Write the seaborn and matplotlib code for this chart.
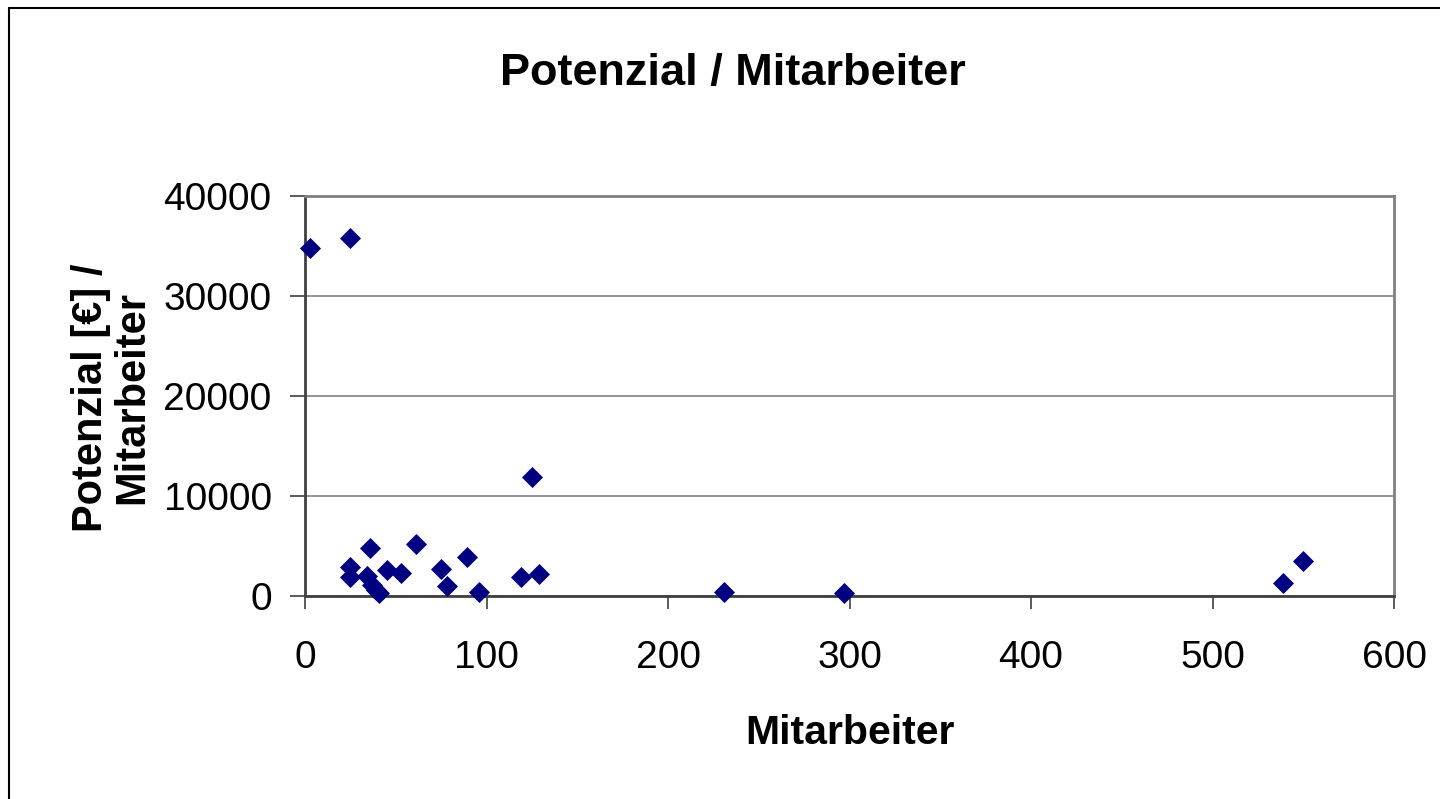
import pandas as pd
import matplotlib
matplotlib.use("Agg")
import matplotlib.pyplot as plt
from matplotlib.lines import Line2D
import seaborn as sns

# Data
mitarbeiter = [3, 25, 25, 25, 36, 34, 37, 39, 41, 45, 53, 61, 75, 78, 89, 96,
               119, 129, 125, 231, 297, 539, 550]
potenzial = [34800, 35800, 2900, 1900, 4800, 2000, 1100, 600, 300, 2600, 2300,
             5200, 2700, 1000, 3900, 400, 1900, 2200, 11900, 400, 300, 1300, 3500]

df = pd.DataFrame({"Mitarbeiter": mitarbeiter, "Potenzial": potenzial})

sns.set_style("white", {"xtick.bottom": True, "ytick.left": True,
                        "text.color": "black", "axes.labelcolor": "black",
                        "xtick.color": "black", "ytick.color": "black"})
plt.rcParams["font.family"] = ["Liberation Sans", "DejaVu Sans"]

fig = plt.figure(figsize=(14.4, 7.99), dpi=100)
ax = fig.add_axes([305 / 1440, 1 - 596 / 799, 1089 / 1440, 400 / 799])

sns.scatterplot(data=df, x="Mitarbeiter", y="Potenzial", marker="D", s=115,
                color="#000080", edgecolor="#000080", linewidth=0, ax=ax, zorder=3,
                clip_on=False)

ax.set_xlim(0, 600)
ax.set_ylim(0, 40000)
ax.set_xticks(range(0, 601, 100))
ax.set_yticks(range(0, 40001, 10000))
ax.grid(axis="y", color="#808080", linewidth=1.2)
ax.set_axisbelow(True)

for side in ["top", "right"]:
    ax.spines[side].set_color("#808080")
    ax.spines[side].set_linewidth(2)
for side in ["left", "bottom"]:
    ax.spines[side].set_color("#404040")
    ax.spines[side].set_linewidth(2)

ax.tick_params(axis="both", direction="out", width=1.2, color="#404040",
               labelsize=28, labelcolor="black")
ax.tick_params(axis="y", length=11, pad=13)
ax.tick_params(axis="x", length=9, pad=23)

ax.set_xlabel("Mitarbeiter", fontsize=29.5, fontweight="bold")
ax.set_ylabel("Potenzial [€] /\nMitarbeiter", fontsize=30, fontweight="bold",
              linespacing=1.05)
ax.xaxis.set_label_coords(0.5, -0.294)
ax.yaxis.set_label_coords(-0.140, 0.495)

fig.text(733 / 1440, 1 - 73 / 799, "Potenzial / Mitarbeiter", ha="center", va="center",
         fontsize=32.5, fontweight="bold")

# outer chart border (left and top visible)
fig.add_artist(Line2D([9 / 1440, 9 / 1440], [0, 1 - 8 / 799], color="black", linewidth=1.5))
fig.add_artist(Line2D([9 / 1440, 1], [1 - 8 / 799, 1 - 8 / 799], color="black", linewidth=1.5))

fig.savefig("out.png", dpi=100)
